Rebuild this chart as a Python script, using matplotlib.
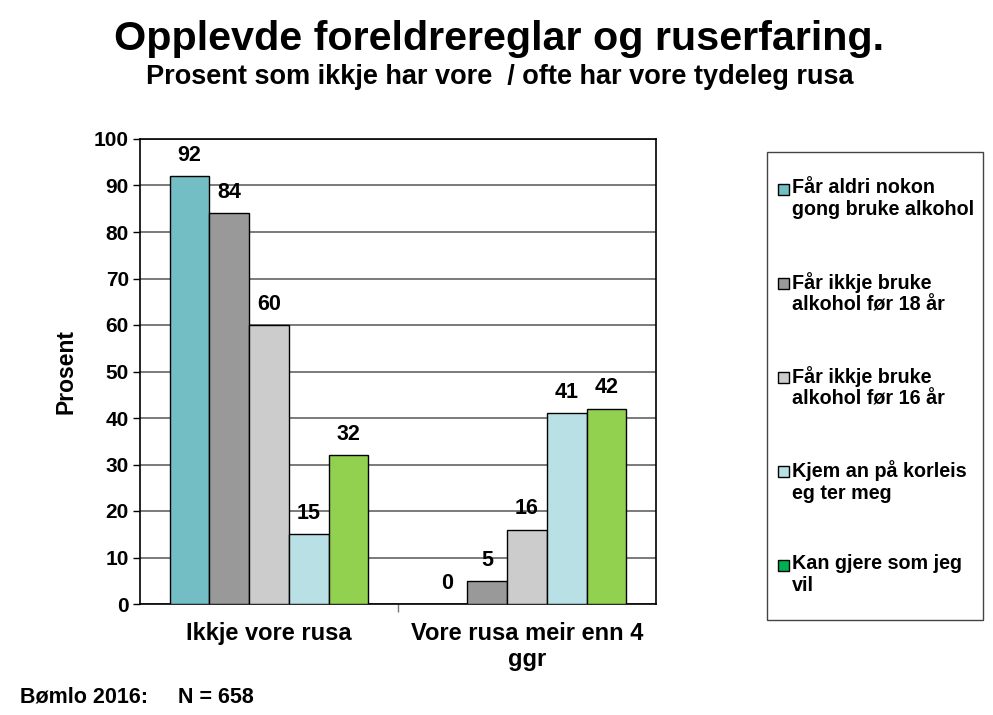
import numpy as np
import matplotlib.pyplot as plt
from matplotlib import font_manager
from matplotlib.patches import Rectangle

# ---------------------------
# DATA
# ---------------------------
categories = ["Ikkje vore rusa", "Vore rusa meir enn 4\nggr"]
series_labels = [
    "Får aldri nokon\ngong bruke alkohol",
    "Får ikkje bruke\nalkohol før 18 år",
    "Får ikkje bruke\nalkohol før 16 år",
    "Kjem an på korleis\neg ter meg",
    "Kan gjere som jeg\nvil",
]
values = [
    [92, 0],
    [84, 5],
    [60, 16],
    [15, 41],
    [32, 42],
]
bar_colors = ["#72BEC4", "#999999", "#CCCCCC", "#B9E0E4", "#92D050"]
legend_colors = ["#72BEC4", "#999999", "#CCCCCC", "#B9E0E4", "#00B050"]
yticks = list(range(0, 101, 10))

# narrow font if there is one, else regular
names = {f.name for f in font_manager.fontManager.ttflist}
narrow = "Liberation Sans Narrow" if "Liberation Sans Narrow" in names else "Liberation Sans"
plt.rcParams["font.family"] = ["Liberation Sans", "DejaVu Sans"]
plt.rcParams["font.weight"] = "bold"

fig = plt.figure(figsize=(9.93, 7.15), dpi=100)
ax = fig.add_axes([140 / 993, 1 - 604 / 715, (656 - 140) / 993, (604 - 139) / 715])

n = len(values)
width = 1 / (n + 1.5)
x = np.arange(len(categories))
for i, vals in enumerate(values):
    pos = x - width * (n - 1) / 2 + i * width
    for p, v in zip(pos, vals):
        if v > 0:
            ax.bar(p, v, width, color=bar_colors[i], edgecolor="black", linewidth=1, zorder=3)
        ax.text(p, v + 2.2, str(v), ha="center", va="bottom", fontsize=15.5, fontweight="bold")

ax.set_xlim(-0.5, 1.5)
ax.set_ylim(0, 100)
ax.set_yticks(yticks)
ax.set_yticklabels([str(t) for t in yticks], fontsize=15, fontweight="bold")
ax.tick_params(axis="y", length=5, width=1, pad=3)
ax.set_xticks([0.5])
ax.set_xticklabels([])
ax.tick_params(axis="x", length=6, width=1, color="#777777")
for c, lab in zip(x, categories):
    ax.text(c, -3.8, lab, ha="center", va="top", fontsize=17, fontweight="bold",
            linespacing=1.2)

ax.yaxis.grid(True, color="#707070", linewidth=1.3, zorder=0)
ax.set_axisbelow(True)
for s in ax.spines.values():
    s.set_color("black")
    s.set_linewidth(1.2)

ax.set_ylabel("Prosent", fontsize=16.5, fontweight="bold", labelpad=12)

# titles
fig.text(0.503, 1 - 39 / 715, "Opplevde foreldrereglar og ruserfaring.", ha="center", va="center",
         fontsize=29.7, fontweight="bold", family=narrow)
fig.text(0.503, 1 - 77 / 715, "Prosent som ikkje har vore  / ofte har vore tydeleg rusa", ha="center",
         va="center", fontsize=19.5, fontweight="bold", family=narrow)
fig.text(20 / 993, 1 - 697 / 715, "Bømlo 2016:     N = 658", ha="left", va="center",
         fontsize=15.5, fontweight="bold")

# legend box drawn by hand so the square sits on the first line
fig.patches.append(Rectangle((767 / 993, 1 - 620 / 715), 216 / 993, 468 / 715,
                             transform=fig.transFigure, fill=False, edgecolor="#444444",
                             linewidth=1))
for i, (lab, col) in enumerate(zip(series_labels, legend_colors)):
    ytop = 178 + i * 94
    fig.patches.append(Rectangle((778 / 993, 1 - (ytop + 17) / 715), 11 / 993, 11 / 715,
                                 transform=fig.transFigure, facecolor=col,
                                 edgecolor="black", linewidth=1))
    fig.text(792 / 993, 1 - ytop / 715, lab, ha="left", va="top", fontsize=14.2,
             fontweight="bold", linespacing=1.17)

fig.savefig("out.png", dpi=100)
